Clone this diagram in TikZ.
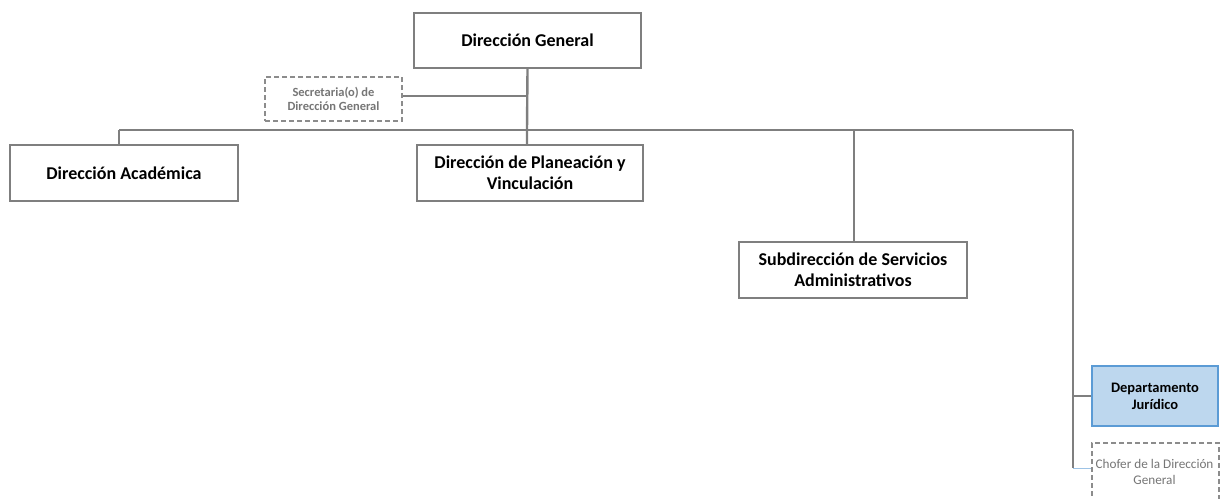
\documentclass[tikz,border=0pt]{standalone}
\usepackage{fontspec}
\setmainfont{Carlito}
\begin{document}
\begin{tikzpicture}[x=1pt,y=-1pt,
  line width=2.4pt,
  link/.style={draw=linegray},
  unit/.style={draw=linegray, fill=white, line width=2.4pt, font=\bfseries\fontsize{18}{21}\selectfont, align=center, inner sep=0pt},
  aide/.style={draw=dashgray, dashed, dash pattern=on 5pt off 3pt, fill=white, line width=2pt, text=textgray, align=center, inner sep=0pt},
  dept/.style={draw=deptblue, fill=deptfill, line width=2.4pt, font=\bfseries\fontsize{14.5}{17}\selectfont, align=center, inner sep=0pt}]
\definecolor{linegray}{HTML}{7F7F7F}
\definecolor{dashgray}{HTML}{8C8C8C}
\definecolor{textgray}{HTML}{767676}
\definecolor{deptblue}{HTML}{5B9BD5}
\definecolor{deptfill}{HTML}{BDD7EE}
\definecolor{thinblue}{HTML}{9DC3E6}
\clip (0,0) rectangle (1220,498);
\useasboundingbox (0,0) rectangle (1220,498);

% connector skeleton
\coordinate (trunk) at (527,130);
\coordinate (left) at (119,130);
\coordinate (mid) at (854,130);
\coordinate (right) at (1073,130);
\coordinate (secj) at (527,96);
\coordinate (depj) at (1073,396);
\coordinate (chj) at (1073,468);

% boxes
\node[unit, minimum width=227pt, minimum height=55pt] (dg) at (527.5,40.5) {Dirección General};
\node[aide, minimum width=137pt, minimum height=44pt, font=\bfseries\fontsize{12.5}{14.5}\selectfont] (sec) at (333.5,99) {Secretaria(o) de\\Dirección General};
\node[unit, minimum width=228pt, minimum height=56pt] (da) at (124,173) {Dirección Académica};
\node[unit, minimum width=226pt, minimum height=56pt] (dp) at (530,173) {Dirección de Planeación y\\Vinculación};
\node[unit, minimum width=228pt, minimum height=56pt] (sa) at (853,270) {Subdirección de Servicios\\Administrativos};
\node[dept, minimum width=126pt, minimum height=60pt] (dj) at (1155,396) {Departamento\\Jurídico};
\node[aide, minimum width=127pt, minimum height=66pt, anchor=north west] (ch) at (1091,442) {};
\node[text=textgray, font=\fontsize{13.2}{16}\selectfont, align=center] (chtext) at (1154.5,472) {Chofer de la Dirección\\General};

% connectors
\draw[link] (dg.south) -- (trunk) -- (dp.north -| trunk);
\draw[link] (sec.east |- secj) -- (secj);
\draw[link] (left) -- (right);
\draw[link] (left) -- (da.north -| left);
\draw[link] (mid) -- (sa.north -| mid);
\draw[link] (right) -- (chj);
\draw[link] (depj) -- (dj.west);
\draw[draw=thinblue, line width=1pt] (chj) -- (ch.west |- chj);
\end{tikzpicture}
\end{document}
